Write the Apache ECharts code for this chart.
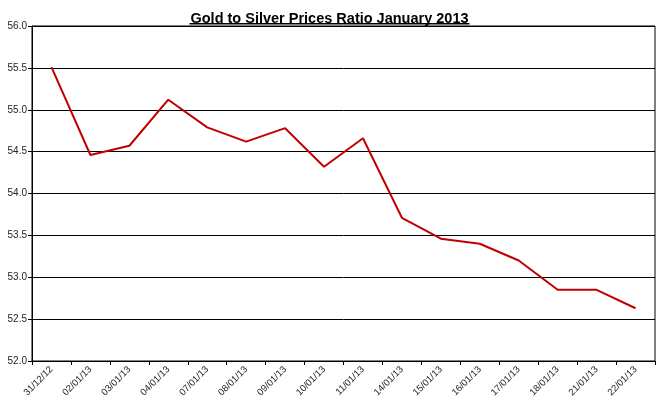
<!DOCTYPE html>
<html>
<head>
    <meta charset="utf-8">
    <title>Gold to Silver Prices Ratio</title>
    <script src="https://cdn.jsdelivr.net/npm/echarts@6/dist/echarts.min.js"></script>
    <style>
        html, body { margin: 0; padding: 0; background: #fff; }
        #chart { width: 659px; height: 413px; }
    </style>
</head>
<body>
    <div id="chart"></div>
    <script type="text/javascript">
        // dates (x axis) and gold/silver ratio values
        var dates = ['31/12/12', '02/01/13', '03/01/13', '04/01/13', '07/01/13', '08/01/13',
                     '09/01/13', '10/01/13', '11/01/13', '14/01/13', '15/01/13', '16/01/13',
                     '17/01/13', '18/01/13', '21/01/13', '22/01/13'];
        var ratio = [55.51, 54.46, 54.57, 55.12, 54.79, 54.62,
                     54.78, 54.32, 54.66, 53.71, 53.46, 53.40,
                     53.20, 52.85, 52.85, 52.63];
        var yMin = 52, yMax = 56, yStep = 0.5;

        var chart = echarts.init(document.getElementById('chart'));
        chart.setOption({
            animation: false,
            title: {
                text: 'Gold to Silver Prices Ratio January 2013',
                left: 'center',
                top: 6,
                textStyle: {
                    fontFamily: 'Liberation Sans, Arial, sans-serif',
                    fontSize: 14.5,
                    fontWeight: 'bold',
                    color: '#000'
                }
            },
            // underline under the title
            graphic: [{
                type: 'rect',
                left: 'center',
                top: 23,
                shape: { width: 280, height: 1.5 },
                style: { fill: '#000' }
            }],
            grid: {
                left: 32, right: 4, top: 26, bottom: 52,
                show: true,
                borderColor: '#000',
                borderWidth: 1
            },
            xAxis: {
                type: 'category',
                data: dates,
                boundaryGap: true,
                axisLine: { lineStyle: { color: '#000', width: 1 } },
                axisTick: { show: true, length: 4, lineStyle: { color: '#000' } },
                axisLabel: {
                    rotate: 45,
                    interval: 0,
                    margin: 7,
                    fontFamily: 'Liberation Sans, Arial, sans-serif',
                    fontSize: 9.5,
                    color: '#222'
                },
                splitLine: { show: false }
            },
            yAxis: {
                type: 'value',
                min: yMin,
                max: yMax,
                interval: yStep,
                axisLine: { show: true, lineStyle: { color: '#000', width: 1 } },
                axisTick: { show: true, length: 4, lineStyle: { color: '#000' } },
                axisLabel: {
                    margin: 5,
                    fontFamily: 'Liberation Sans, Arial, sans-serif',
                    fontSize: 10,
                    color: '#222',
                    formatter: function (v) { return v.toFixed(1); }
                },
                splitLine: { show: true, lineStyle: { color: '#000', width: 1 } }
            },
            series: [{
                type: 'line',
                data: ratio,
                symbol: 'none',
                lineStyle: { color: '#c00000', width: 2 }
            }]
        });
    </script>
</body>
</html>
